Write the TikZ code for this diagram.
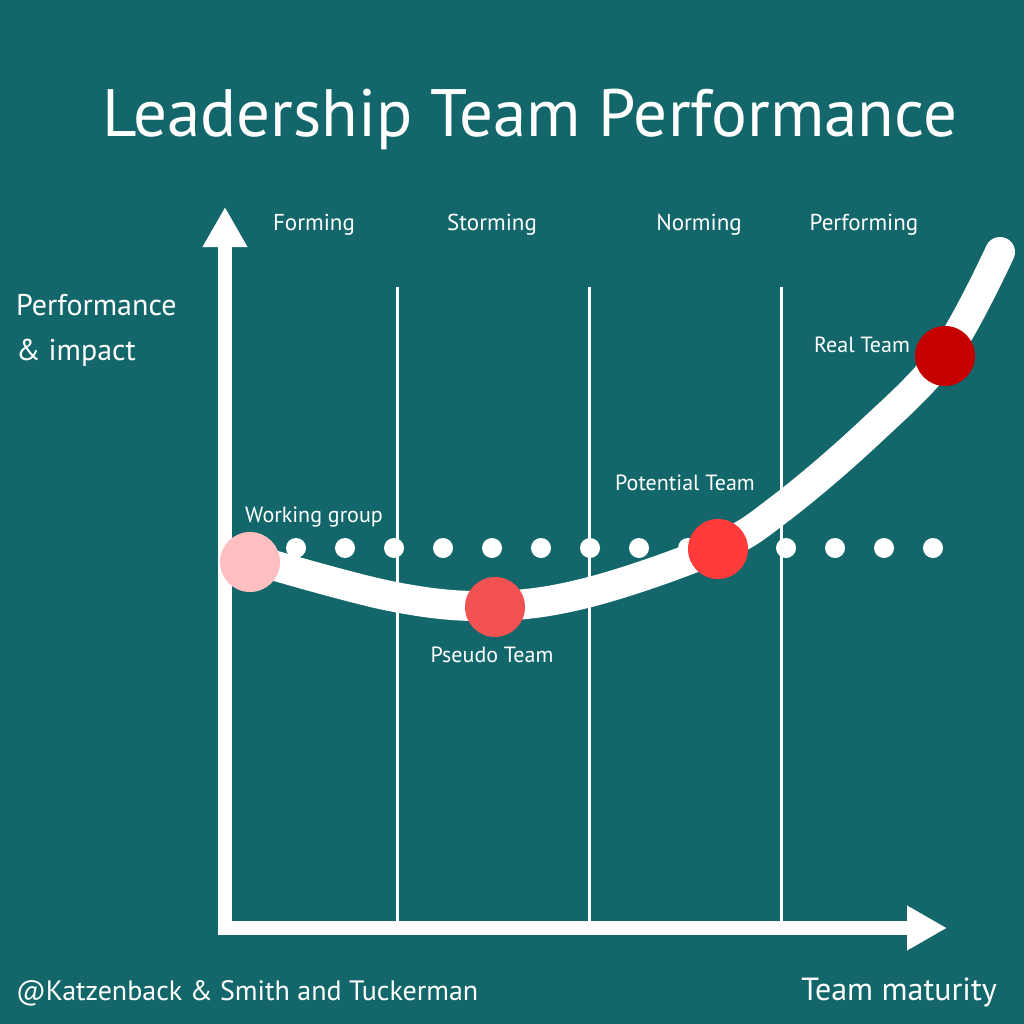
\documentclass[tikz,border=0pt]{standalone}
\usepackage{fontspec}
\setmainfont{PT Sans}
\usetikzlibrary{arrows.meta}
\definecolor{boardteal}{HTML}{13676A}
\definecolor{groupPink}{HTML}{FFBFC0}
\definecolor{pseudoRed}{HTML}{F25252}
\definecolor{potentialRed}{HTML}{FF3B3B}
\definecolor{realRed}{HTML}{C40000}
\begin{document}
\begin{tikzpicture}[
        x=1pt, y=-1pt,
        chalk/.style={text=white, inner sep=0pt, anchor=base},
        stagelabel/.style={chalk, font=\fontsize{23}{27}\selectfont},
        balllabel/.style={chalk, font=\fontsize{22}{26}\selectfont},
        sidelabel/.style={chalk, font=\fontsize{28}{32}\selectfont},
        divider/.style={draw=white, line width=3pt},
        axisline/.style={draw=white, line width=14pt, -{Triangle[width=42pt,length=40pt]}},
        teamball/.style={circle, minimum size=60pt, inner sep=0pt}
    ]
        \fill[boardteal] (0,0) rectangle (1024,1024);
        \useasboundingbox (0,0) rectangle (1024,1024);

        \node[chalk, font=\fontsize{67}{72}\selectfont]
            (title) at (530,137) {Leadership Team Performance};

        % stages
        \node[stagelabel] (forming) at (314,230) {Forming};
        \node[stagelabel] (storming) at (492,230) {Storming};
        \node[stagelabel] (norming) at (699,230) {Norming};
        \node[stagelabel] (performing) at (864,230) {Performing};

        \foreach \x/\name in {397/a, 589/b, 781/c} {
            \coordinate (div\name Top) at (\x,287);
            \coordinate (div\name Bot) at (\x,921);
            \draw[divider] (div\name Top) -- (div\name Bot);
        }

        % axes
        \coordinate (yBase) at (225,935);
        \coordinate (yTip) at (225,207);
        \coordinate (xBase) at (218,928);
        \coordinate (xTip) at (947,928);
        \draw[axisline] (yBase) -- (yTip);
        \draw[axisline] (xBase) -- (xTip);

        \node[sidelabel, font=\fontsize{30}{34}\selectfont, anchor=base west]
            (yLabel) at (16,315) {Performance};
        \node[sidelabel, font=\fontsize{30}{34}\selectfont, anchor=base west]
            (yLabelTwo) at (16,360) {\& impact};
        \node[sidelabel, font=\fontsize{32}{36}\selectfont, anchor=base east]
            (xLabel) at (997,1000) {Team maturity};
        \node[sidelabel, anchor=base west] (source) at (16,1000)
            {@Katzenback \& Smith and Tuckerman};

        % baseline of dots
        \foreach \i in {0,...,14}
            \fill[white] (247+49*\i,548) circle (10);

        % maturity curve
        \draw[white, line width=30pt, line cap=round]
            plot[smooth, tension=0.6] coordinates
            {(245,557) (390,596) (492,606) (590,592) (717,548) (781,508) (870,432) (945,354) (1000,252)};

        \node[teamball, fill=groupPink] (working) at (250,562) {};
        \node[teamball, fill=pseudoRed] (pseudo) at (495,607) {};
        \node[teamball, fill=potentialRed] (potential) at (718,549) {};
        \node[teamball, fill=realRed] (real) at (945,356) {};

        \node[balllabel] (workingText) at (314,522) {Working group};
        \node[balllabel] (pseudoText) at (492,662) {Pseudo Team};
        \node[balllabel] (potentialText) at (685,490) {Potential Team};
        \node[balllabel] (realText) at (862,352) {Real Team};
    \end{tikzpicture}
\end{document}
